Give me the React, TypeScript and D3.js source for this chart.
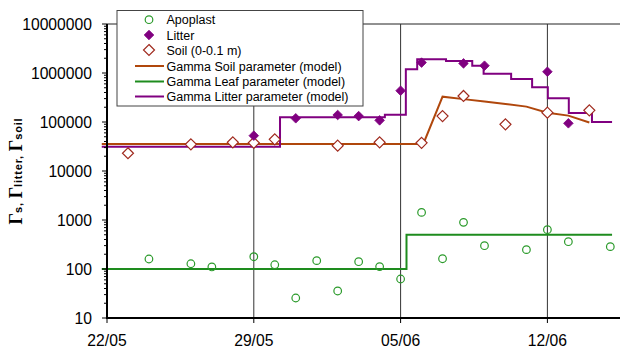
import React, { useEffect, useRef } from "react";
import * as d3 from "d3";

// sampling dates (day/month), year is arbitrary
const YEAR = "2004";

const apoplastDates = ["05-24", "05-26", "05-27", "05-29", "05-30", "05-31", "06-01", "06-02", "06-03", "06-04", "06-05", "06-06", "06-07", "06-08", "06-09", "06-11", "06-12", "06-13", "06-15"];
const apoplastValues = [160, 128, 110, 178, 122, 25.6, 148, 35.6, 141, 112, 62.5, 1430, 162, 896, 299, 248, 635, 361, 286];

const litterDates = ["05-29", "05-31", "06-02", "06-03", "06-04", "06-05", "06-06", "06-08", "06-09", "06-12", "06-13"];
const litterValues = [52600, 119000, 139000, 132000, 108000, 435000, 1630000, 1570000, 1410000, 1060000, 94000];

const soilDates = ["05-23", "05-26", "05-28", "05-29", "05-30", "06-02", "06-04", "06-06", "06-07", "06-08", "06-10", "06-12", "06-14"];
const soilValues = [23000, 35000, 38500, 37500, 44300, 32900, 38500, 37500, 132000, 340000, 89600, 155000, 173000];

// model curves
const soilModelDates = ["05-21T18:00", "06-06T02:00", "06-07T00:00", "06-08T00:00", "06-09T00:00", "06-10T00:00", "06-11T00:00", "06-12T00:00", "06-13T00:00", "06-14T00:00"];
const soilModelValues = [35600, 35600, 329000, 293000, 261000, 233000, 206000, 155000, 135000, 98000];

const leafModelDates = ["05-21T18:00", "06-05T06:45", "06-15T02:00"];
const leafModelValues = [100, 500, 500];

const litterModelDates = ["05-21T18:00", "05-30T06:00", "06-04T06:00", "06-05T06:00", "06-05T19:00", "06-07T04:00", "06-08T10:00", "06-08T23:00", "06-10T06:30", "06-11T06:30", "06-12T00:30", "06-13T00:30", "06-14T03:00", "06-15T02:00"];
const litterModelValues = [31300, 125000, 141000, 1190000, 1910000, 1760000, 1410000, 970000, 755000, 511000, 305000, 153000, 100000, 100000];

const xTickDates = ["05-22", "05-29", "06-05", "06-12"];
const legendLabels = ["Apoplast", "Litter", "Soil (0-0.1 m)", "Gamma Soil parameter (model)", "Gamma Leaf parameter (model)", "Gamma Litter parameter (model)"];

const toDate = (md: string) => new Date(`${YEAR}-${md}${md.includes("T") ? "" : "T00:00"}:00Z`);

const GREEN_PT = "#2a9a2a";
const GREEN_LN = "#1e8c1e";
const PURPLE = "#800080";
const BROWN = "#b0470c";
const SOIL_PT = "#a02a1e";

const W = 620, H = 348;

export default function App() {
    const ref = useRef<SVGSVGElement>(null);

    useEffect(() => {
        const svg = d3.select(ref.current);
        svg.selectAll("*").remove();

        const left = 107, right = 620.8, top = 24, bottom = 318;
        const x = d3.scaleUtc()
            .domain([toDate("05-22"), toDate("06-15T12:00")])
            .range([left, right]);
        const y = d3.scaleLog().domain([10, 1e7]).range([bottom, top]);

        const font = "'Liberation Sans', Arial, sans-serif";

        // top frame line
        svg.append("line")
            .attr("x1", left).attr("x2", W).attr("y1", top).attr("y2", top)
            .attr("stroke", "#222").attr("stroke-width", 1);

        // vertical grid
        svg.selectAll(".grid").data(xTickDates.slice(1)).enter().append("line")
            .attr("x1", d => x(toDate(d))).attr("x2", d => x(toDate(d)))
            .attr("y1", top).attr("y2", bottom)
            .attr("stroke", "#333").attr("stroke-width", 1);

        // model lines
        const line = (dates: string[], vals: number[], curve: d3.CurveFactory) =>
            d3.line<number>()
                .x(i => x(toDate(dates[i])))
                .y(i => y(vals[i]))
                .curve(curve)(d3.range(dates.length));

        svg.append("path").attr("d", line(soilModelDates, soilModelValues, d3.curveLinear))
            .attr("fill", "none").attr("stroke", BROWN).attr("stroke-width", 2);
        svg.append("path").attr("d", line(leafModelDates, leafModelValues, d3.curveStepAfter))
            .attr("fill", "none").attr("stroke", GREEN_LN).attr("stroke-width", 2);
        svg.append("path").attr("d", line(litterModelDates, litterModelValues, d3.curveStepAfter))
            .attr("fill", "none").attr("stroke", PURPLE).attr("stroke-width", 2);

        const diamond = (cx: number, cy: number, r: number) =>
            `M${cx},${cy - r}L${cx + r},${cy}L${cx},${cy + r}L${cx - r},${cy}Z`;

        // points
        svg.selectAll(".apo").data(d3.range(apoplastDates.length)).enter().append("circle")
            .attr("cx", i => x(toDate(apoplastDates[i])))
            .attr("cy", i => y(apoplastValues[i]))
            .attr("r", 3.8)
            .attr("fill", "none").attr("stroke", GREEN_PT).attr("stroke-width", 1.2);

        svg.selectAll(".soil").data(d3.range(soilDates.length)).enter().append("path")
            .attr("d", i => diamond(x(toDate(soilDates[i])), y(soilValues[i]), 5.5))
            .attr("fill", "#fff").attr("stroke", SOIL_PT).attr("stroke-width", 1.2);

        svg.selectAll(".litter").data(d3.range(litterDates.length)).enter().append("path")
            .attr("d", i => diamond(x(toDate(litterDates[i])), y(litterValues[i]), 4.8))
            .attr("fill", PURPLE).attr("stroke", PURPLE).attr("stroke-width", 0.8);

        // y axis
        const yTicks = y.ticks();
        svg.selectAll(".ytick").data(yTicks).enter().append("line")
            .attr("x1", d => Math.abs(Math.log10(d) % 1) < 1e-9 ? left - 5 : left - 3)
            .attr("x2", left)
            .attr("y1", d => y(d)).attr("y2", d => y(d))
            .attr("stroke", "#000").attr("stroke-width", 1);

        const majors = yTicks.filter(d => Math.abs(Math.log10(d) % 1) < 1e-9);
        svg.selectAll(".ylab").data(majors).enter().append("text")
            .attr("x", 92).attr("y", d => y(d)).attr("dy", "0.36em")
            .attr("text-anchor", "end")
            .attr("font-family", font).attr("font-size", 15.7)
            .text(d => d3.format("d")(d));

        svg.append("line").attr("x1", left).attr("x2", left).attr("y1", top).attr("y2", bottom + 1)
            .attr("stroke", "#000").attr("stroke-width", 2);

        // x axis
        svg.append("line").attr("x1", left - 1).attr("x2", W).attr("y1", bottom).attr("y2", bottom)
            .attr("stroke", "#000").attr("stroke-width", 2);
        svg.selectAll(".xtick").data(xTickDates).enter().append("line")
            .attr("x1", d => x(toDate(d))).attr("x2", d => x(toDate(d)))
            .attr("y1", bottom).attr("y2", bottom + 5)
            .attr("stroke", "#000").attr("stroke-width", 1);
        svg.selectAll(".xlab").data(xTickDates).enter().append("text")
            .attr("x", d => x(toDate(d))).attr("y", 346)
            .attr("text-anchor", "middle")
            .attr("font-family", font).attr("font-size", 15.7)
            .text(d => d3.utcFormat("%d/%m")(toDate(d)));

        // y title
        const title = svg.append("text")
            .attr("transform", "translate(22,171) rotate(-90)")
            .attr("text-anchor", "middle")
            .attr("font-weight", "bold");
        const parts: [string, boolean][] = [["Γ", true], ["s", false], [", ", false], ["Γ", true], ["litter", false], [", ", false], ["Γ", true], ["soil", false]];
        parts.forEach(([t, big]) => {
            title.append("tspan")
                .attr("font-family", big ? "'Liberation Serif', 'Times New Roman', serif" : font)
                .attr("font-size", big ? 18 : 11)
                .attr("letter-spacing", big ? 0 : 0.8)
                .text(t);
        });

        // legend
        const lg = svg.append("g");
        lg.append("rect").attr("x", 117).attr("y", 10.5).attr("width", 246).attr("height", 95.5)
            .attr("fill", "#fff").attr("stroke", "#444").attr("stroke-width", 1);
        const rows = [19.7, 35, 50, 66, 81.5, 96.5];
        lg.append("circle").attr("cx", 149).attr("cy", rows[0]).attr("r", 3.8)
            .attr("fill", "none").attr("stroke", GREEN_PT).attr("stroke-width", 1.2);
        lg.append("path").attr("d", diamond(149, rows[1], 4.8)).attr("fill", PURPLE).attr("stroke", PURPLE).attr("stroke-width", 0.8);
        lg.append("path").attr("d", diamond(149, rows[2], 5.5)).attr("fill", "#fff").attr("stroke", SOIL_PT).attr("stroke-width", 1.2);
        [BROWN, GREEN_LN, PURPLE].forEach((c, i) => {
            lg.append("line").attr("x1", 135).attr("x2", 164).attr("y1", rows[3 + i]).attr("y2", rows[3 + i])
                .attr("stroke", c).attr("stroke-width", 2);
        });
        lg.selectAll(".lt").data(legendLabels).enter().append("text")
            .attr("x", 166.5).attr("y", (d, i) => rows[i]).attr("dy", "0.36em")
            .attr("font-family", font).attr("font-size", 12.5)
            .text(d => d);
    }, []);

    return (
        <svg ref={ref} width={W} height={H}
            style={{ position: "absolute", left: 0, top: 0, background: "#fff" }} />
    );
}
